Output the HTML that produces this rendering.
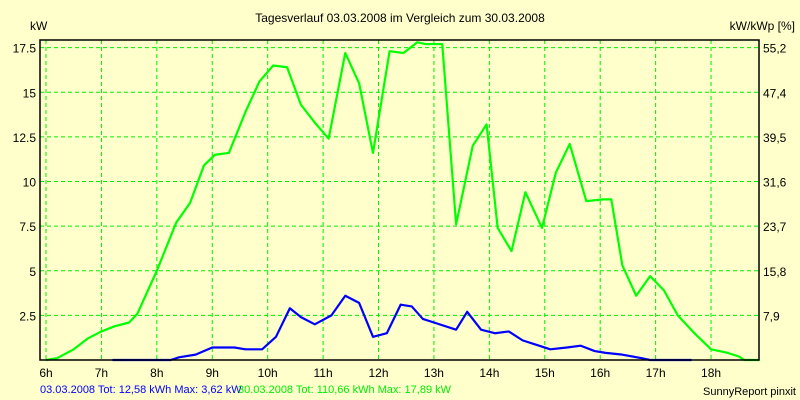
<!DOCTYPE html>
<html><head><meta charset="utf-8"><style>
body{margin:0;background:#ffffcc;}
svg{display:block;font-family:"Liberation Sans",sans-serif;}
</style></head><body>
<svg id="chart" width="800" height="400" xmlns="http://www.w3.org/2000/svg">
<rect width="800" height="400" fill="#ffffcc"/>
<text x="400" y="22" font-size="12" text-anchor="middle">Tagesverlauf 03.03.2008 im Vergleich zum 30.03.2008</text>
<text x="30" y="30" font-size="12">kW</text>
<text x="795" y="30" font-size="12" text-anchor="end">kW/kWp [%]</text>
<g id="grid"></g>
<g id="series"></g>
<rect x="40" y="40" width="719" height="320" fill="none" stroke="#000" stroke-width="1.5"/>
<g id="labels"></g>
<text x="40" y="393" font-size="11" fill="#0000ff">03.03.2008 Tot: 12,58 kWh Max: 3,62 kW</text>
<text x="238" y="393" font-size="11" fill="#00ee00">30.03.2008 Tot: 110,66 kWh Max: 17,89 kW</text>
<text x="796" y="395" font-size="11" text-anchor="end">SunnyReport pinxit</text>
</svg>
<script>
const hourTicks=[6,7,8,9,10,11,12,13,14,15,16,17,18];
const yTicks=[2.5,5,7.5,10,12.5,15,17.5];
const yTickLabels=["2.5","5","7.5","10","12.5","15","17.5"];
const rightTickLabels=["7,9","15,8","23,7","31,6","39,5","47,4","55,2"];
const greenT=[6.0,6.2,6.5,6.75,7.0,7.25,7.5,7.65,8.0,8.35,8.6,8.85,9.05,9.3,9.6,9.85,10.1,10.35,10.6,10.85,11.1,11.4,11.65,11.9,12.2,12.45,12.7,12.85,13.0,13.15,13.4,13.7,13.95,14.15,14.4,14.65,14.95,15.2,15.45,15.75,16.05,16.2,16.4,16.65,16.9,17.15,17.4,17.7,18.0,18.3,18.5,18.6,18.87];
const greenV=[0,0.1,0.6,1.2,1.6,1.9,2.1,2.6,5,7.7,8.8,10.9,11.5,11.6,13.9,15.6,16.5,16.4,14.3,13.3,12.4,17.2,15.5,11.6,17.3,17.2,17.8,17.7,17.7,17.7,7.6,12.0,13.2,7.4,6.1,9.4,7.4,10.5,12.1,8.9,9.0,9.0,5.3,3.6,4.7,3.9,2.5,1.5,0.6,0.4,0.2,0,0];
const blueT=[7.2,8.25,8.4,8.7,9.0,9.4,9.6,9.9,10.15,10.4,10.6,10.85,11.15,11.4,11.65,11.9,12.15,12.4,12.6,12.8,13.0,13.4,13.6,13.85,14.1,14.35,14.6,14.8,15.1,15.4,15.65,15.9,16.1,16.4,16.75,16.9,17.65];
const blueV=[0,0,0.15,0.3,0.7,0.7,0.6,0.6,1.3,2.9,2.4,2.0,2.5,3.6,3.2,1.3,1.5,3.1,3.0,2.3,2.1,1.7,2.7,1.7,1.5,1.6,1.1,0.9,0.6,0.7,0.8,0.5,0.4,0.3,0.1,0,0];
const NS="http://www.w3.org/2000/svg";
const xs=h=>46+(h-6)*55.42;
const ys=v=>360-v*17.85;
function mk(tag,attrs,parent){const e=document.createElementNS(NS,tag);for(const k in attrs)e.setAttribute(k,attrs[k]);parent.appendChild(e);return e;}
const grid=document.getElementById('grid'),labels=document.getElementById('labels'),series=document.getElementById('series');
hourTicks.forEach(h=>{
  const l=mk('line',{x1:xs(h),x2:xs(h),y1:40,y2:360,stroke:'#00ee00','stroke-dasharray':'4,3'},grid);
  
  
  const t=mk('text',{x:xs(h),y:377,'font-size':12,'text-anchor':'middle'},labels);
  t.textContent=h+'h';
  
  
});
yTicks.forEach((v,i)=>{
  const l=mk('line',{x1:40,x2:759,y1:ys(v),y2:ys(v),stroke:'#00ee00','stroke-dasharray':'4,3'},grid);
  
  
  const t=mk('text',{x:36,y:ys(v)+5,'font-size':12,'text-anchor':'end'},labels);
  t.textContent=yTickLabels[i];
  
  
  const r=mk('text',{x:763,y:ys(v)+5,'font-size':12},labels);
  r.textContent=rightTickLabels[i];
  
  
});
function line(T,V,color,name){
  const p=mk('polyline',{points:T.map((t,i)=>xs(t)+','+ys(V[i])).join(' '),fill:'none',stroke:color,'stroke-width':2.2,'stroke-linejoin':'round'},series);
  
  
}
line(greenT,greenV,'#00ff00','series-30-03-2008');
line(blueT,blueV,'#0000ff','series-03-03-2008');
</script>
</body></html>
